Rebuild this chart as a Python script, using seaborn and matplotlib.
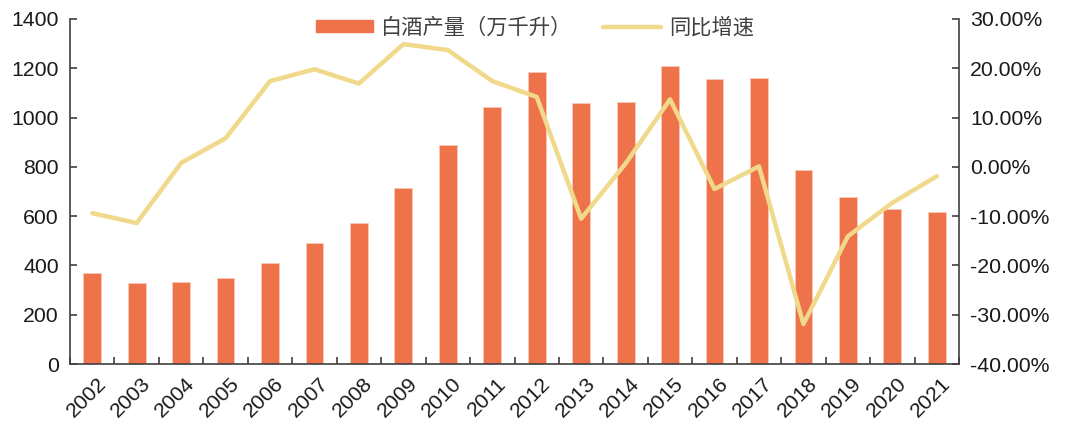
import matplotlib
matplotlib.use("Agg")
import matplotlib.pyplot as plt
import seaborn as sns
import pandas as pd
import numpy as np
from matplotlib.ticker import FuncFormatter, MultipleLocator
from matplotlib.patches import Patch
from matplotlib.lines import Line2D
import matplotlib.transforms as mtransforms

years = [str(y) for y in range(2002, 2022)]
production = [371, 328, 331, 351, 409, 490, 574, 716, 887, 1041,
              1185, 1058, 1064, 1211, 1158, 1159, 789, 677, 627, 616]
growth = [-9.4, -11.4, 0.8, 5.8, 17.4, 19.8, 16.9, 24.9, 23.7, 17.4,
          14.2, -10.5, 0.7, 13.7, -4.5, 0.1, -31.9, -14.1, -7.3, -1.9]
bar_label = "白酒产量（万千升）"
line_label = "同比增速"

sns.set_theme(style="white")
plt.rcParams['font.family'] = ['Liberation Sans', 'Noto Sans CJK SC', 'DejaVu Sans']
plt.rcParams['xtick.direction'] = 'in'
plt.rcParams['ytick.direction'] = 'in'

bar_color = "#EE724A"
line_color = "#F0D98A"
spine_color = "#404040"
fs = 15.3

df = pd.DataFrame({"year": years, "production": production, "growth": growth})

fig = plt.figure(figsize=(10.8, 4.33), dpi=100)
ax = fig.add_axes([70/1080, 1 - 364/433, (959-70)/1080, (364-19)/433])
sns.barplot(data=df, x="year", y="production", ax=ax, color=bar_color,
            width=0.4, saturation=1, edgecolor="#F9C9B5", linewidth=0.6)
ax.set_xlim(-0.5, len(years) - 0.5)
ax.set_ylim(0, 1400)
ax.yaxis.set_major_locator(MultipleLocator(200))
ax.set_xlabel("")
ax.set_ylabel("")
ax.set_xticks(np.arange(len(years)))
ax.set_xticklabels(years, rotation=45, ha="right", rotation_mode="anchor", fontsize=fs)
ax.set_xticks(np.arange(len(years) + 1) - 0.5, minor=True)
ax.tick_params(axis="x", which="major", length=0, pad=7)
ax.tick_params(axis="x", which="minor", length=5, width=1.2, color=spine_color, direction="in", bottom=True)
ax.tick_params(axis="y", length=5, width=1.2, color=spine_color, labelsize=fs, pad=8)
for lab in ax.get_xticklabels():
    lab.set_transform(lab.get_transform() + mtransforms.ScaledTranslation(3/72, 0, fig.dpi_scale_trans))

ax2 = ax.twinx()
sns.lineplot(data=df, x="year", y="growth", ax=ax2, color=line_color, linewidth=3.2,
             sort=False)
ax2.set_ylim(-40, 30)
ax2.yaxis.set_major_locator(MultipleLocator(10))
ax2.yaxis.set_major_formatter(FuncFormatter(lambda v, p: f"{v:.2f}%"))
ax2.set_ylabel("")
ax2.set_xlim(-0.5, len(years) - 0.5)
ax2.tick_params(axis="y", length=5, width=1.2, color=spine_color, labelsize=fs, pad=8)

for a in (ax, ax2):
    a.spines["top"].set_visible(False)
    for s in ("left", "right", "bottom"):
        a.spines[s].set_color(spine_color)
        a.spines[s].set_linewidth(1.2)
ax.spines["right"].set_visible(False)
ax2.spines["left"].set_visible(False)
ax2.spines["bottom"].set_visible(False)
for a in (ax, ax2):
    for t in a.get_yticklabels() + a.get_xticklabels():
        t.set_color("#1a1a1a")

handles = [Patch(facecolor=bar_color, edgecolor=bar_color),
           Line2D([0], [0], color=line_color, linewidth=3.2)]
leg = ax.legend(handles, [bar_label, line_label], loc="upper center",
                bbox_to_anchor=(0.523, 1.06), ncol=2, frameon=False, fontsize=fs,
                handlelength=2.7, handleheight=0.5, columnspacing=1.45, handletextpad=0.4)
for t in leg.get_texts():
    t.set_color("#404040")

fig.savefig("out.png", dpi=100)
